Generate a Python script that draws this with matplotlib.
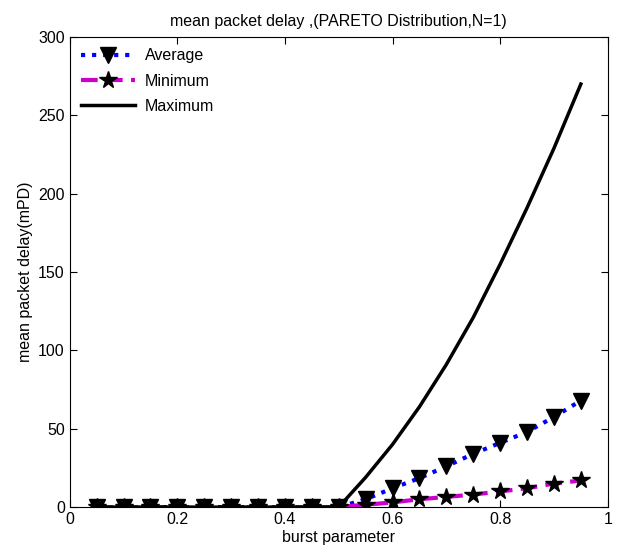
import matplotlib
matplotlib.use('Agg')
from matplotlib import pyplot as plt

# burst parameter values
burst = [0.05, 0.10, 0.15, 0.20, 0.25, 0.30, 0.35, 0.40, 0.45, 0.50,
         0.55, 0.60, 0.65, 0.70, 0.75, 0.80, 0.85, 0.90, 0.95]

# mean packet delay series
avg_delay = [0, 0, 0, 0, 0, 0, 0, 0, 0, 0,
             5, 12, 18.5, 26, 34, 41, 48, 57.5, 68]
min_delay = [0, 0, 0, 0, 0, 0, 0, 0, 0, 0,
             1.5, 3, 5, 6.5, 8, 10, 12, 15, 17]
max_delay = [0, 0, 0, 0, 0, 0, 0, 0, 0, 0,
             19, 40, 64, 91, 121, 155, 191, 229, 270]

x_ticks = [0, 0.2, 0.4, 0.6, 0.8, 1]
y_ticks = [0, 50, 100, 150, 200, 250, 300]


def main():
    plt.rcParams['font.family'] = ['Liberation Sans', 'DejaVu Sans']
    fig = plt.figure(figsize=(6.17, 5.53), dpi=100)
    ax = fig.add_axes([0.113, 0.083, 0.872, 0.85])

    ax.plot(burst, avg_delay, color='#0000ff', linestyle=':', linewidth=3,
            marker='v', markersize=12, markerfacecolor='black',
            markeredgecolor='black', label='Average')
    ax.plot(burst, min_delay, color='#cc00cc', linestyle='--', linewidth=3,
            dashes=(4, 2), marker='*', markersize=13, markerfacecolor='black',
            markeredgecolor='black', label='Minimum')
    ax.plot(burst, max_delay, color='black', linewidth=2.5, label='Maximum')

    ax.set_xlim(0, 1)
    ax.set_ylim(0, 300)
    ax.set_xticks(x_ticks)
    ax.set_xticklabels(['0', '0.2', '0.4', '0.6', '0.8', '1'])
    ax.set_yticks(y_ticks)
    ax.tick_params(direction='in', top=True, right=True, labelsize=11.5, length=5)

    ax.set_xlabel('burst parameter', fontsize=11.5, labelpad=2)
    ax.set_ylabel('mean packet delay(mPD)', fontsize=11.5, labelpad=4)
    ax.set_title('mean packet delay ,(PARETO Distribution,N=1)', fontsize=11.5,
                 pad=8)

    ax.legend(loc='upper left', frameon=False, fontsize=11.5, handlelength=3.4,
              borderaxespad=0.3, labelspacing=0.65, handletextpad=0.6)

    fig.savefig('out.png', dpi=100)


if __name__ == '__main__':
    main()
